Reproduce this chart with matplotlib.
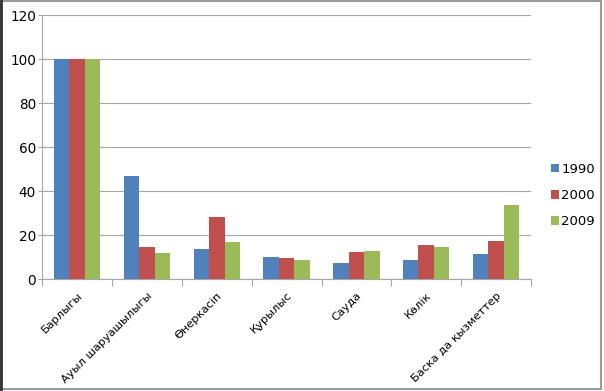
import numpy as np
import matplotlib.pyplot as plt
from matplotlib.patches import Rectangle
from matplotlib.lines import Line2D

categories = ['Барлыгы', 'Ауыл шаруашылыгы', 'Өнеркасіп', 'Қурылыс',
              'Сауда', 'Кѳлік', 'Баска да қызметтер']
years = ['1990', '2000', '2009']
v1990 = [100, 47, 13.5, 10.3, 7.3, 8.6, 11.4]
v2000 = [100, 14.6, 28.3, 9.7, 12.4, 15.6, 17.4]
v2009 = [100, 12.1, 16.8, 8.8, 12.7, 14.5, 33.5]
colors = ['#4F81BD', '#C0504D', '#9BBB59']

plt.rcParams['font.family'] = ['DejaVu Sans']

fig = plt.figure(figsize=(6.04, 3.91), dpi=100)
ax = fig.add_axes([0.070, 0.286, 0.809, 0.675])

x = np.arange(len(categories))
w = 1 / 4.5
for i, (vals, c, lab) in enumerate(zip([v1990, v2000, v2009], colors, years)):
    ax.bar(x + (i - 1) * w, vals, width=w, color=c, label=lab, zorder=3)

ax.set_xlim(-0.5, len(categories) - 0.5)
ax.set_ylim(0, 120)
ax.set_yticks(range(0, 121, 20))
ax.yaxis.grid(True, color='#a6a6a6', linewidth=0.8, zorder=0)

# засечки между категориями, подписи по центрам
ax.set_xticks(np.arange(-0.5, len(categories), 1))
ax.set_xticklabels([])
ax.set_xticks(x, minor=True)
ax.set_xticklabels(categories, minor=True, rotation=45, ha='right',
                   rotation_mode='anchor', fontsize=8.2)
ax.tick_params(axis='x', which='minor', length=0, pad=8)
ax.tick_params(axis='x', which='major', length=5, color='#a6a6a6')
ax.tick_params(axis='y', length=3, color='#a6a6a6', labelsize=9.8, pad=1.5)

for s in ['top', 'right']:
    ax.spines[s].set_visible(False)
for s in ['left', 'bottom']:
    ax.spines[s].set_color('#a6a6a6')

ax.legend(loc='center left', bbox_to_anchor=(0.912, 0.50),
          bbox_transform=fig.transFigure, frameon=False, fontsize=9.5,
          handlelength=0.6, handleheight=0.6, handletextpad=0.2,
          labelspacing=1.0, borderpad=0, borderaxespad=0)

# рамка вокруг диаграммы
fig.patches.append(Rectangle((0.002, 0.004), 0.993, 0.994, transform=fig.transFigure,
                             fill=False, edgecolor='#9a9a9a', linewidth=1.5))
fig.lines.append(Line2D([0.002, 0.002], [0, 1], transform=fig.transFigure,
                        color='#333333', linewidth=2))

fig.savefig('out.png', dpi=100)
